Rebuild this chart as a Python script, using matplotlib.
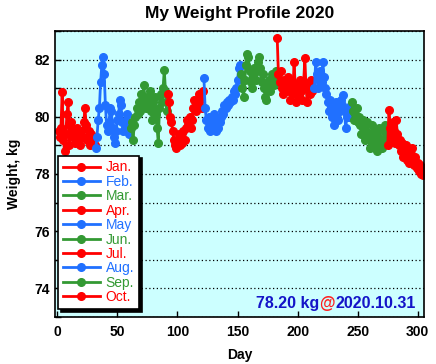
import numpy as np
import matplotlib
matplotlib.use("Agg")
import matplotlib.pyplot as plt
from matplotlib.offsetbox import TextArea, HPacker, AnchoredOffsetbox

plt.rcParams['font.family'] = ['Liberation Sans', 'DejaVu Sans']

# Daily weights, one list per month
jan = [79.5, 79.3, 79.6, 80.85, 79.2, 78.8, 79.4, 80.1, 80.5, 79.0, 79.8, 79.6, 79.3, 79.5, 79.1, 79.6,
       79.2, 79.4, 79.0, 79.5, 79.3, 79.8, 80.3, 79.7, 79.2, 79.5, 79.0, 79.4, 79.3, 79.1, 79.0]
feb = [78.9, 79.3, 79.9, 80.3, 81.2, 81.8, 82.08, 81.5, 80.4, 79.7, 79.5, 79.8, 80.3, 80.2, 79.6,
       79.3, 79.1, 79.5, 79.9, 80.1, 80.6, 80.4, 79.8, 79.5, 79.6, 79.9, 80.1, 79.8, 79.4]
mar = [79.6, 79.8, 79.2, 79.7, 80.0, 80.3, 80.1, 80.5, 80.2, 80.8, 80.4, 81.1, 80.6, 80.3, 80.7, 80.4,
       80.9, 80.2, 79.9, 80.5, 80.7, 80.1, 79.6, 79.1, 80.3, 80.8, 80.5, 81.0, 81.64, 80.9, 80.2]
apr = [80.8, 80.5, 80.0, 79.8, 79.5, 79.2, 79.0, 78.9, 79.1, 79.4, 79.0, 79.3, 79.1, 79.5, 79.2,
       79.6, 79.9, 79.7, 80.0, 79.6, 79.9, 80.3, 80.6, 80.2, 80.5, 80.4, 80.8, 80.6, 80.3, 80.9]
may = [81.36, 80.3, 79.9, 79.6, 80.0, 79.5, 79.8, 79.6, 80.1, 79.7, 79.5, 79.9, 79.6, 79.8, 80.0, 80.2,
       80.1, 80.4, 80.3, 80.5, 80.4, 80.6, 80.5, 80.7, 80.6, 80.9, 80.8, 81.0, 81.3, 81.7, 81.8]
jun = [81.5, 81.0, 80.7, 81.3, 81.8, 82.2, 82.1, 81.6, 81.2, 81.0, 81.4, 81.7, 81.3, 81.6, 81.9,
       82.1, 81.7, 81.2, 81.5, 81.0, 80.7, 80.6, 81.1, 81.3, 80.9, 81.3, 81.5, 81.1, 81.3, 81.6]
jul = [82.75, 81.5, 81.2, 81.6, 81.0, 80.8, 81.3, 81.1, 80.9, 81.4, 81.0, 80.6, 81.2, 80.8, 81.9, 81.1,
       80.5, 81.0, 80.7, 81.3, 80.9, 80.6, 81.2, 82.05, 81.0, 80.5, 81.1, 80.8, 81.3, 80.9, 81.0]
aug = [81.0, 81.9, 81.5, 81.0, 81.3, 81.6, 81.2, 81.9, 81.4, 81.0, 80.8, 80.5, 80.2, 80.6, 80.3, 80.0,
       79.7, 80.2, 80.5, 80.1, 79.9, 80.3, 80.6, 80.4, 80.75, 80.2, 79.6, 80.0, 80.3, 80.0, 80.4]
sep = [80.5, 80.2, 79.9, 80.1, 80.3, 79.8, 80.0, 79.7, 79.4, 79.9, 79.6, 79.2, 79.5, 79.8, 79.3,
       78.9, 79.4, 79.7, 79.1, 79.5, 79.2, 78.8, 79.3, 79.6, 79.0, 78.9, 79.2, 79.5, 79.7, 79.1]
oct_ = [79.0, 80.25, 79.6, 79.3, 79.8, 79.5, 79.1, 79.9, 79.4, 79.0, 79.2, 78.8, 79.1, 78.6, 78.9, 79.0,
        78.5, 78.8, 78.4, 78.7, 78.9, 78.5, 78.3, 78.6, 78.2, 78.4, 78.1, 78.3, 78.0, 77.95, 78.2]

months = [jan, feb, mar, apr, may, jun, jul, aug, sep, oct_]
labels = ['Jan.', 'Feb.', 'Mar.', 'Apr.', 'May', 'Jun.', 'Jul.', 'Aug.', 'Sep.', 'Oct.']
colors = ['#ff0000', '#2070ff', '#339933'] * 3 + ['#ff0000']

last_weight = "78.20 kg"
last_date = "2020.10.31"

fig = plt.figure(figsize=(4.36, 3.64), dpi=100)
ax = fig.add_axes([0.126, 0.129, 0.846, 0.786])
ax.set_facecolor('#ccffff')

start = 1
for vals, lab, col in zip(months, labels, colors):
    days = np.arange(start, start + len(vals))
    ax.plot(days, vals, color=col, lw=2, marker='o', ms=5.5, label=lab)
    start += len(vals)

ax.set_xlim(-2, 305)
ax.set_ylim(73, 83)
ax.set_xticks(range(0, 301, 50))
ax.set_yticks(range(74, 83, 2))
ax.set_yticks(range(73, 84), minor=True)
ax.grid(axis='y', which='both', color='black', ls=(0, (1, 2)), lw=0.9)
ax.tick_params(direction='in', which='both', length=4, width=1, labelsize=10)
ax.tick_params(axis='x', pad=6)
for t in ax.get_xticklabels() + ax.get_yticklabels():
    t.set_fontweight('bold')
for s in ax.spines.values():
    s.set_linewidth(1.2)

ax.set_title('My Weight Profile 2020', fontsize=12.5, fontweight='bold', pad=9)
ax.set_xlabel('Day', fontsize=10, fontweight='bold', labelpad=6)
ax.set_ylabel('Weight, kg', fontsize=10, fontweight='bold', labelpad=10)

leg = ax.legend(loc='lower left', bbox_to_anchor=(0.008, 0.028), borderaxespad=0,
                fancybox=False, shadow={'color': 'black', 'alpha': 1},
                framealpha=1, edgecolor='black', fontsize=10, handlelength=2.7,
                labelspacing=0.03, handletextpad=0.4, borderpad=0.35, numpoints=1)
leg.get_frame().set_linewidth(1.2)
for txt, col in zip(leg.get_texts(), colors):
    txt.set_color(col)

# last reading, with the "@" in red
parts = [TextArea(last_weight, textprops=dict(color='#1414c8', fontsize=11.5, fontweight='bold')),
         TextArea('@', textprops=dict(color='#ff2020', fontsize=11.5, fontweight='bold')),
         TextArea(last_date, textprops=dict(color='#1414c8', fontsize=11.5, fontweight='bold'))]
box = HPacker(children=parts, align='baseline', pad=0, sep=0)
anchored = AnchoredOffsetbox(loc='lower right', child=box, pad=0.2, frameon=False,
                             bbox_to_anchor=(0.985, 0.01), bbox_transform=ax.transAxes,
                             borderpad=0)
ax.add_artist(anchored)

fig.savefig('out.png', dpi=100)
